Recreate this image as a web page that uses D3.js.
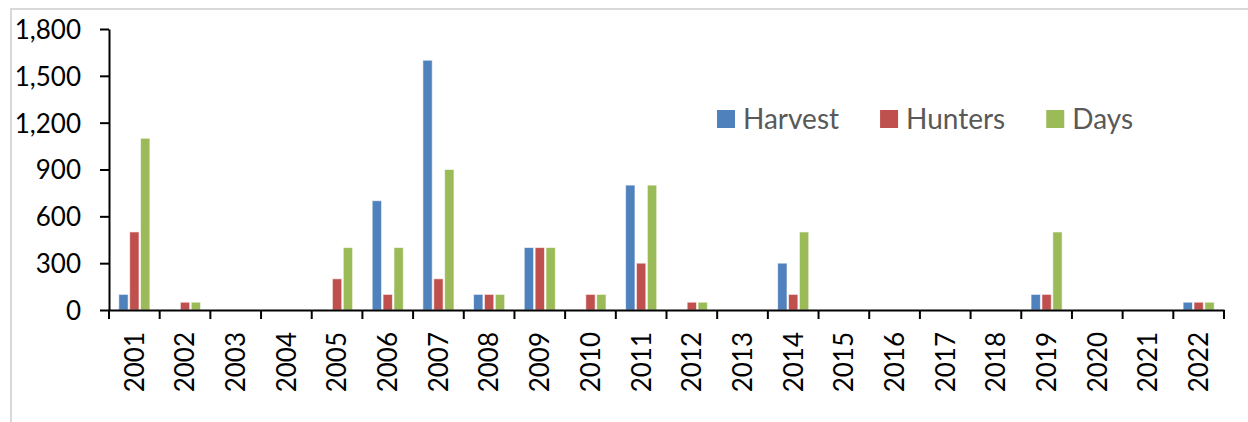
<!DOCTYPE html>
<html>
<head>
<meta charset="utf-8">
<script src="https://cdn.jsdelivr.net/npm/d3@7"></script>
<style>
  body { margin: 0; background: #fff; }
  svg { display: block; font-family: Lato, "Open Sans", sans-serif; }
  .axis path, .axis line { stroke: #000; stroke-width: 2; }
  .axis text { font-family: Lato, "Open Sans", sans-serif; font-size: 26px; fill: #000; }
  .legend text { font-size: 28px; fill: #595959; }
</style>
</head>
<body>
<div id="chart"></div>
<script>
var years = ["2001","2002","2003","2004","2005","2006","2007","2008","2009","2010","2011",
             "2012","2013","2014","2015","2016","2017","2018","2019","2020","2021","2022"];
var harvest = [100, 0, 0, 0, 0, 700, 1600, 100, 400, 0, 800, 0, 0, 300, 0, 0, 0, 0, 100, 0, 0, 50];
var hunters = [500, 50, 0, 0, 200, 100, 200, 100, 400, 100, 300, 50, 0, 100, 0, 0, 0, 0, 100, 0, 0, 50];
var days    = [1100, 50, 0, 0, 400, 400, 900, 100, 400, 100, 800, 50, 0, 500, 0, 0, 0, 0, 500, 0, 0, 50];
var seriesNames = ["Harvest", "Hunters", "Days"];
var yTicks = [0, 300, 600, 900, 1200, 1500, 1800];

var colors = ["#4f81bd", "#c0504d", "#9bbb59"];
var seriesValues = [harvest, hunters, days];

var W = 1248, H = 422;
var margin = {top: 29, right: 24, bottom: 112, left: 109};
var width = W - margin.left - margin.right;
var height = H - margin.top - margin.bottom;

var svg = d3.select("#chart").append("svg")
  .attr("width", W)
  .attr("height", H);

// outer chart border (light gray)
svg.append("path")
  .attr("d", "M11," + H + "V9H" + W)
  .attr("fill", "none")
  .attr("stroke", "#d9d9d9")
  .attr("stroke-width", 2);

var g = svg.append("g")
  .attr("transform", "translate(" + margin.left + "," + margin.top + ")");

var x0 = d3.scaleBand().domain(years).range([0, width]).padding(0);
var x1 = d3.scaleBand().domain(seriesNames).range([0, x0.bandwidth()])
  .paddingInner(0.14).paddingOuter(0.9);
var y = d3.scaleLinear().domain([0, 1800]).range([height, 0]);

var color = d3.scaleOrdinal().domain(seriesNames).range(colors);

// bars
var groups = g.selectAll(".year")
  .data(years)
  .enter().append("g")
  .attr("class", "year")
  .attr("transform", function(d) { return "translate(" + x0(d) + ",0)"; });

groups.selectAll("rect")
  .data(function(d, i) {
    return seriesNames.map(function(s, j) { return {name: s, value: seriesValues[j][i]}; });
  })
  .enter().append("rect")
  .filter(function(d) { return d.value > 0; })
  .attr("x", function(d) { return x1(d.name); })
  .attr("y", function(d) { return y(d.value); })
  .attr("width", x1.bandwidth())
  .attr("height", function(d) { return height - y(d.value); })
  .attr("fill", function(d) { return color(d.name); })
  .attr("stroke", "#fff")
  .attr("stroke-opacity", 0.6)
  .attr("stroke-width", 1);

// y axis
var fmt = d3.format(",");
g.append("g")
  .attr("class", "axis y")
  .call(d3.axisLeft(y).tickValues(yTicks).tickSize(9).tickPadding(19).tickSizeOuter(0)
    .tickFormat(function(d) { return fmt(d); }))
  .selectAll("text")
  .attr("dy", "0.36em");

// x axis: line, boundary ticks, rotated labels
var xa = g.append("g")
  .attr("class", "axis x")
  .attr("transform", "translate(0," + height + ")");

xa.call(d3.axisBottom(x0).tickSize(0).tickSizeOuter(0))
  .selectAll("text")
  .attr("transform", "rotate(-90)")
  .attr("x", -22)
  .attr("y", 0)
  .attr("dy", "0.36em")
  .style("text-anchor", "end");

var bounds = years.map(function(d) { return x0(d); }).concat([width]);
xa.selectAll(".bound")
  .data(bounds)
  .enter().append("line")
  .attr("class", "bound")
  .attr("x1", function(d) { return d; })
  .attr("x2", function(d) { return d; })
  .attr("y1", 0)
  .attr("y2", 9);

// legend
var legend = svg.append("g").attr("class", "legend");
var lx = 717;
seriesNames.forEach(function(s) {
  var item = legend.append("g").attr("transform", "translate(" + lx + ",110)");
  item.append("rect")
    .attr("width", 18).attr("height", 18)
    .attr("fill", color(s));
  var t = item.append("text")
    .attr("x", 26).attr("y", 19)
    .text(s);
  lx += 26 + t.node().getComputedTextLength() + 41;
});
</script>
</body>
</html>
